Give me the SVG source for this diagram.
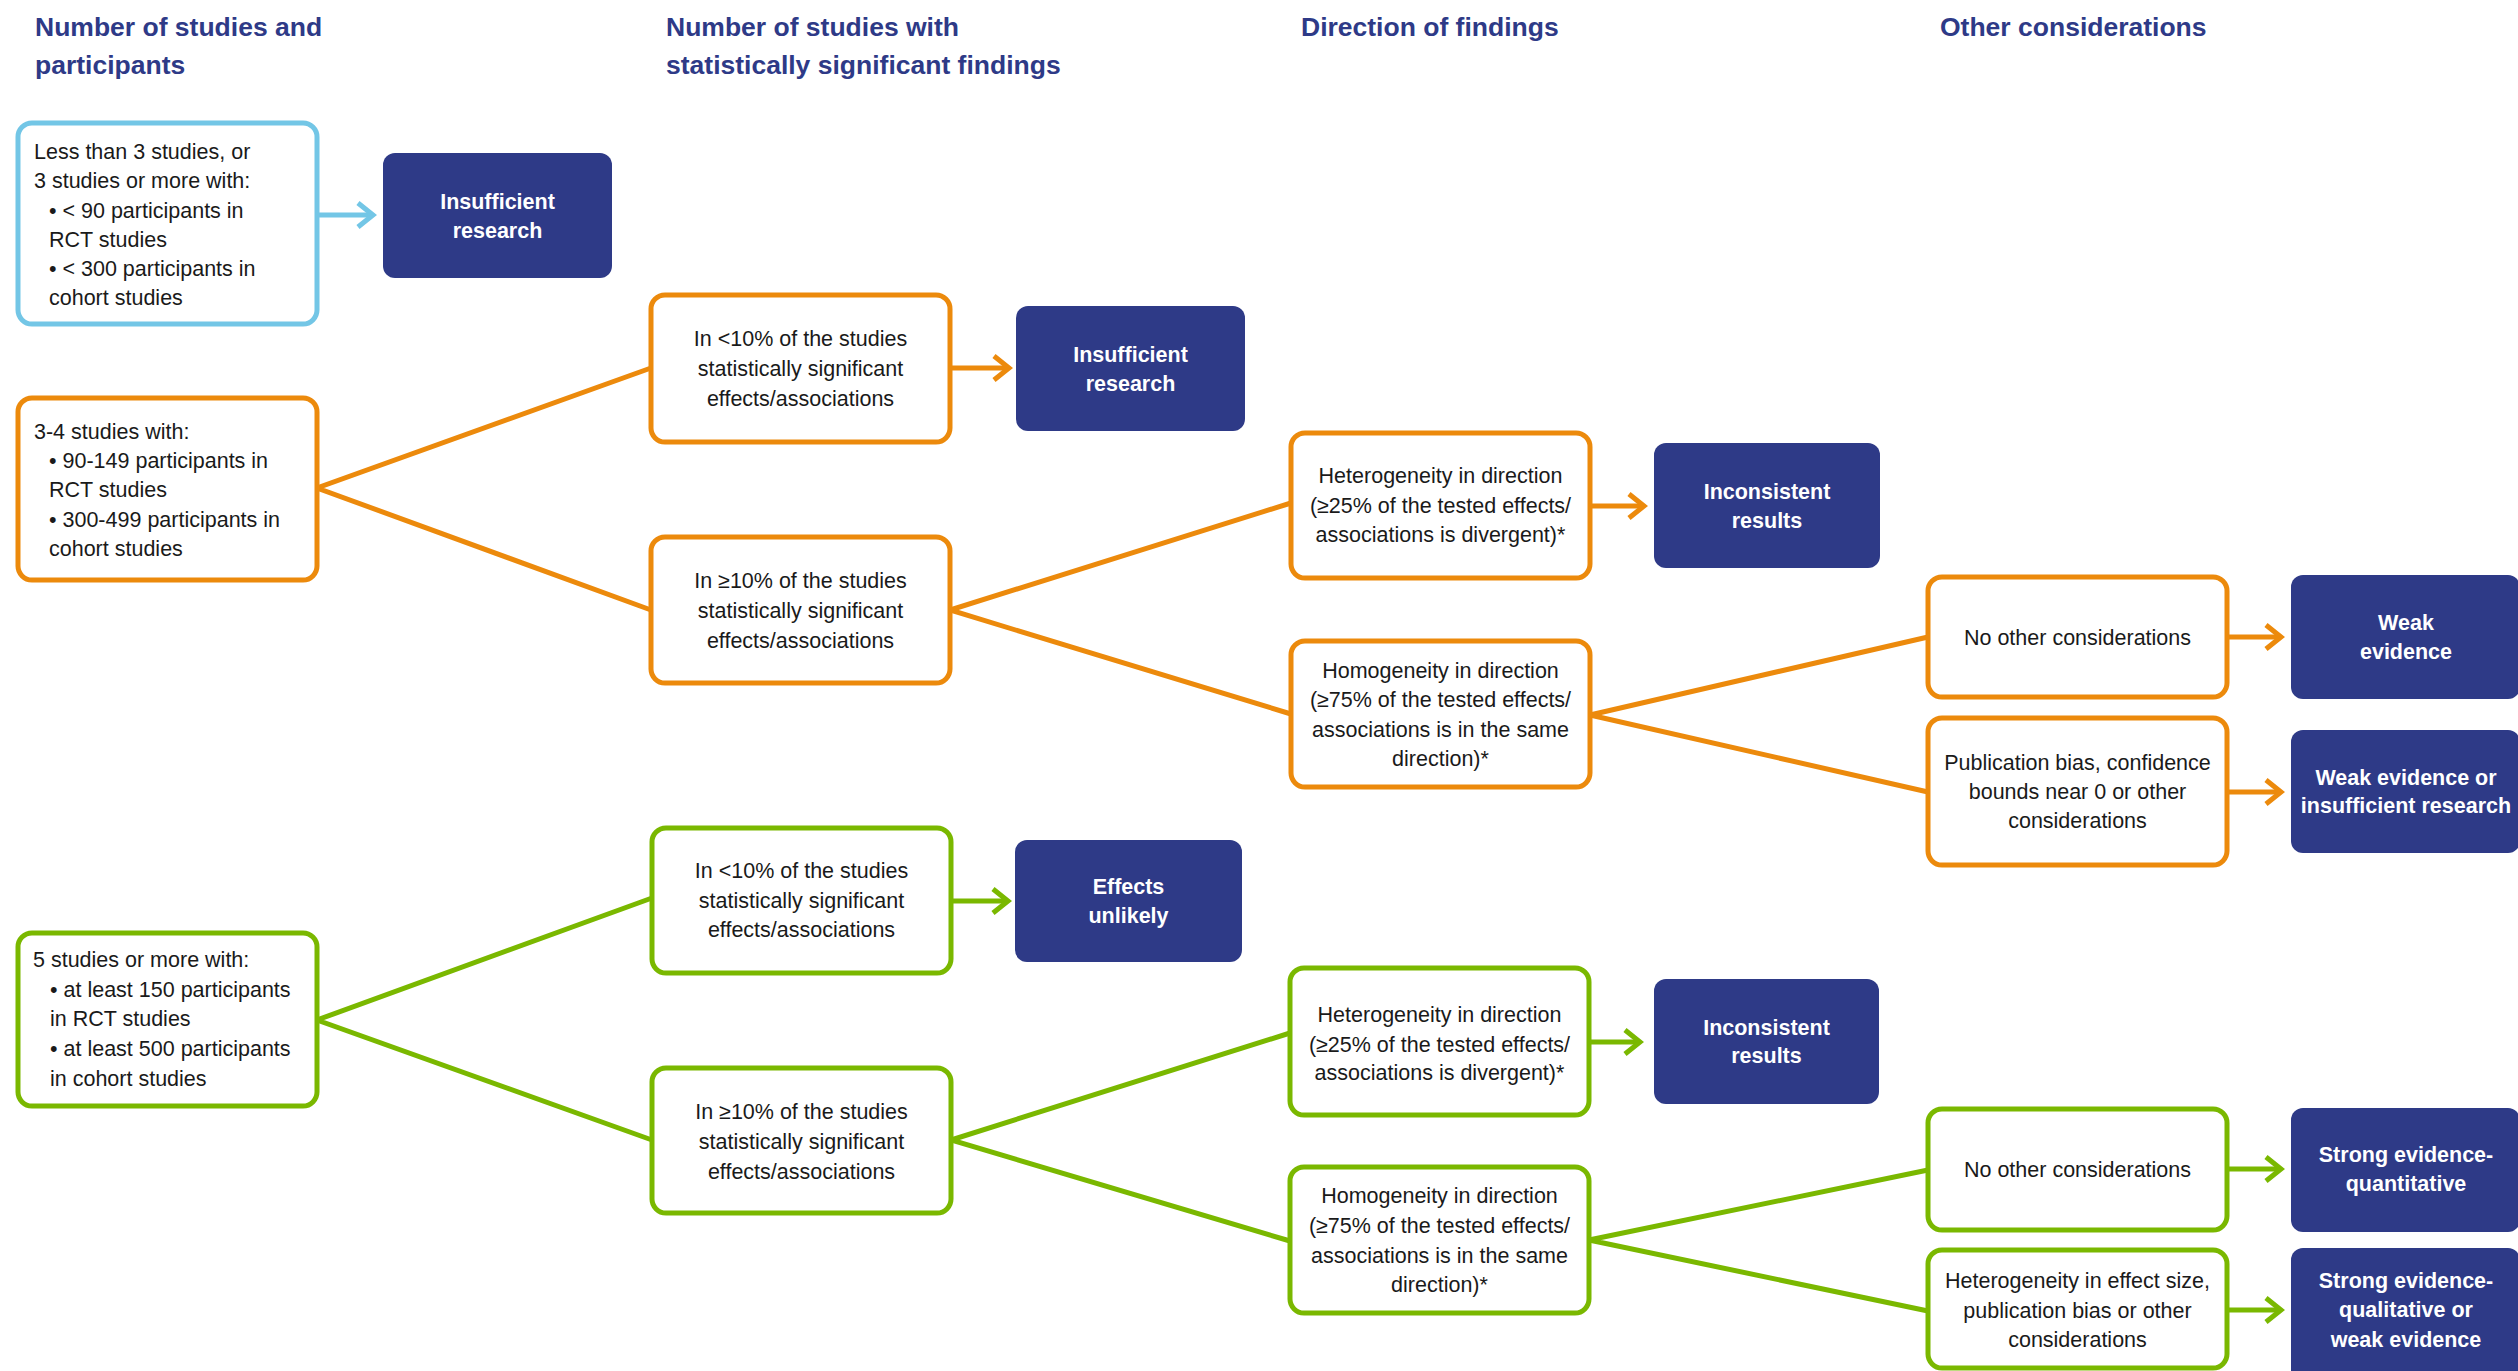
<svg xmlns="http://www.w3.org/2000/svg" width="2518" height="1371" viewBox="0 0 2518 1371">
<style>
text{font-family:"Liberation Sans",Arial,sans-serif}
.title{font-size:26.5px;font-weight:bold;fill:#2E3A87}
.t{font-size:21.5px;fill:#1a1a1a}
.c{text-anchor:middle}
.w{font-size:21.5px;font-weight:bold;fill:#fff;text-anchor:middle}
.nv{fill:#2E3A87}
.bb{fill:#fff;stroke:#73C6E6;stroke-width:5}
.ob{fill:#fff;stroke:#EC8A0C;stroke-width:5}
.gb{fill:#fff;stroke:#7AB800;stroke-width:5}
.cb{fill:none;stroke:#73C6E6;stroke-width:5}
.co{fill:none;stroke:#EC8A0C;stroke-width:5}
.cg{fill:none;stroke:#7AB800;stroke-width:5}
</style>
<defs>
<marker id="ab" viewBox="-20 -16 26 32" markerWidth="26" markerHeight="32" refX="0" refY="0" orient="auto" markerUnits="userSpaceOnUse" overflow="visible"><path d="M-15,-12 L0,0 L-15,12" fill="none" stroke="#73C6E6" stroke-width="5"/></marker>
<marker id="ao" viewBox="-20 -16 26 32" markerWidth="26" markerHeight="32" refX="0" refY="0" orient="auto" markerUnits="userSpaceOnUse" overflow="visible"><path d="M-15,-12 L0,0 L-15,12" fill="none" stroke="#EC8A0C" stroke-width="5"/></marker>
<marker id="ag" viewBox="-20 -16 26 32" markerWidth="26" markerHeight="32" refX="0" refY="0" orient="auto" markerUnits="userSpaceOnUse" overflow="visible"><path d="M-15,-12 L0,0 L-15,12" fill="none" stroke="#7AB800" stroke-width="5"/></marker>
</defs>
<rect width="2518" height="1371" fill="#fff"/>
<g id="titles">
<text class="title" x="35" y="36">Number of studies and</text>
<text class="title" x="35" y="74">participants</text>
<text class="title" x="666" y="36">Number of studies with</text>
<text class="title" x="666" y="74">statistically significant findings</text>
<text class="title" x="1301" y="36">Direction of findings</text>
<text class="title" x="1940" y="36">Other considerations</text>
</g>
<g id="connectors">
<path class="cb" d="M317 215 H373" marker-end="url(#ab)"/>
<path class="co" d="M651 368 L317 488 L651 610"/>
<path class="co" d="M950 368 H1009" marker-end="url(#ao)"/>
<path class="co" d="M1291 503 L950 610 L1291 714"/>
<path class="co" d="M1590 506 H1644" marker-end="url(#ao)"/>
<path class="co" d="M1928 637 L1590 715 L1928 792"/>
<path class="co" d="M2227 637 H2281" marker-end="url(#ao)"/>
<path class="co" d="M2227 792 H2281" marker-end="url(#ao)"/>
<path class="cg" d="M652 898 L317 1020 L652 1140"/>
<path class="cg" d="M951 901 H1008" marker-end="url(#ag)"/>
<path class="cg" d="M1290 1033 L951 1140 L1290 1241"/>
<path class="cg" d="M1589 1042 H1640" marker-end="url(#ag)"/>
<path class="cg" d="M1928 1170 L1589 1240 L1928 1311"/>
<path class="cg" d="M2227 1169 H2281" marker-end="url(#ag)"/>
<path class="cg" d="M2227 1310 H2281" marker-end="url(#ag)"/>
</g>
<g id="n_lt3">
<rect class="bb" x="18" y="123" width="299" height="201" rx="14"/>
<text class="t" x="34" y="159">Less than 3 studies, or</text>
<text class="t" x="34" y="188">3 studies or more with:</text>
<text class="t" x="49" y="218">• &lt; 90 participants in</text>
<text class="t" x="49" y="247">RCT studies</text>
<text class="t" x="49" y="276">• &lt; 300 participants in</text>
<text class="t" x="49" y="305">cohort studies</text>
</g>
<g id="n_insuf1">
<rect class="nv" x="383" y="153" width="229" height="125" rx="12"/>
<text class="w" x="497.5" y="209">Insufficient</text>
<text class="w" x="497.5" y="238">research</text>
</g>
<g id="n_34">
<rect class="ob" x="18" y="398" width="299" height="182" rx="14"/>
<text class="t" x="34" y="439">3-4 studies with:</text>
<text class="t" x="49" y="468">• 90-149 participants in</text>
<text class="t" x="49" y="497">RCT studies</text>
<text class="t" x="49" y="527">• 300-499 participants in</text>
<text class="t" x="49" y="556">cohort studies</text>
</g>
<g id="n_o_lt10">
<rect class="ob" x="651" y="295" width="299" height="147" rx="14"/>
<text class="t c" x="800.5" y="346">In &lt;10% of the studies</text>
<text class="t c" x="800.5" y="376">statistically significant</text>
<text class="t c" x="800.5" y="406">effects/associations</text>
</g>
<g id="n_o_insuf">
<rect class="nv" x="1016" y="306" width="229" height="125" rx="12"/>
<text class="w" x="1130.5" y="362">Insufficient</text>
<text class="w" x="1130.5" y="391">research</text>
</g>
<g id="n_o_ge10">
<rect class="ob" x="651" y="537" width="299" height="146" rx="14"/>
<text class="t c" x="800.5" y="588">In ≥10% of the studies</text>
<text class="t c" x="800.5" y="618">statistically significant</text>
<text class="t c" x="800.5" y="648">effects/associations</text>
</g>
<g id="n_o_het">
<rect class="ob" x="1291" y="433" width="299" height="145" rx="14"/>
<text class="t c" x="1440.5" y="483">Heterogeneity in direction</text>
<text class="t c" x="1440.5" y="513">(≥25% of the tested effects/</text>
<text class="t c" x="1440.5" y="542">associations is divergent)*</text>
</g>
<g id="n_o_inc">
<rect class="nv" x="1654" y="443" width="226" height="125" rx="12"/>
<text class="w" x="1767" y="499">Inconsistent</text>
<text class="w" x="1767" y="528">results</text>
</g>
<g id="n_o_hom">
<rect class="ob" x="1291" y="641" width="299" height="146" rx="14"/>
<text class="t c" x="1440.5" y="678">Homogeneity in direction</text>
<text class="t c" x="1440.5" y="707">(≥75% of the tested effects/</text>
<text class="t c" x="1440.5" y="737">associations is in the same</text>
<text class="t c" x="1440.5" y="766">direction)*</text>
</g>
<g id="n_o_noother">
<rect class="ob" x="1928" y="577" width="299" height="120" rx="14"/>
<text class="t c" x="2077.5" y="645">No other considerations</text>
</g>
<g id="n_o_weak">
<rect class="nv" x="2291" y="575" width="229" height="124" rx="12"/>
<text class="w" x="2406" y="630">Weak</text>
<text class="w" x="2406" y="659">evidence</text>
</g>
<g id="n_o_pub">
<rect class="ob" x="1928" y="718" width="299" height="147" rx="14"/>
<text class="t c" x="2077.5" y="770">Publication bias, confidence</text>
<text class="t c" x="2077.5" y="799">bounds near 0 or other</text>
<text class="t c" x="2077.5" y="828">considerations</text>
</g>
<g id="n_o_weakins">
<rect class="nv" x="2291" y="730" width="229" height="123" rx="12"/>
<text class="w" x="2406" y="785">Weak evidence or</text>
<text class="w" x="2406" y="813">insufficient research</text>
</g>
<g id="n_5">
<rect class="gb" x="18" y="933" width="299" height="173" rx="14"/>
<text class="t" x="33" y="967">5 studies or more with:</text>
<text class="t" x="50" y="997">• at least 150 participants</text>
<text class="t" x="50" y="1026">in RCT studies</text>
<text class="t" x="50" y="1056">• at least 500 participants</text>
<text class="t" x="50" y="1086">in cohort studies</text>
</g>
<g id="n_g_lt10">
<rect class="gb" x="652" y="828" width="299" height="145" rx="14"/>
<text class="t c" x="801.5" y="878">In &lt;10% of the studies</text>
<text class="t c" x="801.5" y="908">statistically significant</text>
<text class="t c" x="801.5" y="937">effects/associations</text>
</g>
<g id="n_g_eff">
<rect class="nv" x="1015" y="840" width="227" height="122" rx="12"/>
<text class="w" x="1128.5" y="894">Effects</text>
<text class="w" x="1128.5" y="923">unlikely</text>
</g>
<g id="n_g_ge10">
<rect class="gb" x="652" y="1068" width="299" height="145" rx="14"/>
<text class="t c" x="801.5" y="1119">In ≥10% of the studies</text>
<text class="t c" x="801.5" y="1149">statistically significant</text>
<text class="t c" x="801.5" y="1179">effects/associations</text>
</g>
<g id="n_g_het">
<rect class="gb" x="1290" y="968" width="299" height="147" rx="14"/>
<text class="t c" x="1439.5" y="1022">Heterogeneity in direction</text>
<text class="t c" x="1439.5" y="1052">(≥25% of the tested effects/</text>
<text class="t c" x="1439.5" y="1080">associations is divergent)*</text>
</g>
<g id="n_g_inc">
<rect class="nv" x="1654" y="979" width="225" height="125" rx="12"/>
<text class="w" x="1766.5" y="1035">Inconsistent</text>
<text class="w" x="1766.5" y="1063">results</text>
</g>
<g id="n_g_hom">
<rect class="gb" x="1290" y="1167" width="299" height="146" rx="14"/>
<text class="t c" x="1439.5" y="1203">Homogeneity in direction</text>
<text class="t c" x="1439.5" y="1233">(≥75% of the tested effects/</text>
<text class="t c" x="1439.5" y="1263">associations is in the same</text>
<text class="t c" x="1439.5" y="1292">direction)*</text>
</g>
<g id="n_g_noother">
<rect class="gb" x="1928" y="1109" width="299" height="121" rx="14"/>
<text class="t c" x="2077.5" y="1177">No other considerations</text>
</g>
<g id="n_g_strongq">
<rect class="nv" x="2291" y="1108" width="229" height="124" rx="12"/>
<text class="w" x="2406" y="1162">Strong evidence-</text>
<text class="w" x="2406" y="1191">quantitative</text>
</g>
<g id="n_g_hetes">
<rect class="gb" x="1928" y="1250" width="299" height="118" rx="14"/>
<text class="t c" x="2077.5" y="1288">Heterogeneity in effect size,</text>
<text class="t c" x="2077.5" y="1318">publication bias or other</text>
<text class="t c" x="2077.5" y="1347">considerations</text>
</g>
<g id="n_g_strongw">
<rect class="nv" x="2291" y="1248" width="229" height="135" rx="12"/>
<text class="w" x="2406" y="1288">Strong evidence-</text>
<text class="w" x="2406" y="1317">qualitative or</text>
<text class="w" x="2406" y="1347">weak evidence</text>
</g>
</svg>
